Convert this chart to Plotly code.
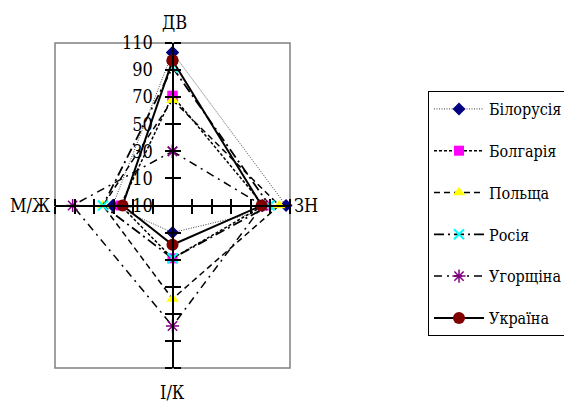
import math
import plotly.graph_objects as go

# ---------------- data ----------------
categories = ["ДВ", "ЗН", "І/К", "М/Ж"]
series_names = ["Білорусія", "Болгарія", "Польща", "Росія", "Угорщіна", "Україна"]
belarus = [103, 106, 10, 51]
bulgaria = [71, 83, 29, 43]
poland = [68, 99, 59, 61]
russia = [92, 89, 29, 61]
hungary = [30, 82, 79, 92]
ukraine = [97, 81, 19, 41]
tick_labels = ["-10", "10", "30", "50", "70", "90", "110"]
r_min = -10
r_max = 110

series_values = [belarus, bulgaria, poland, russia, hungary, ukraine]

# ---------------- styles ----------------
styles = [
    dict(dash="1px,1.5px", width=1, color="#404040", symbol="diamond", mcolor="#000080", msize=10, mline=0),
    dict(dash="3px,2px", width=1.5, color="black", symbol="square", mcolor="#FF00FF", msize=10, mline=0),
    dict(dash="6px,4px", width=1.5, color="black", symbol="triangle-up", mcolor="#FFFF00", msize=11, mline=0),
    dict(dash="10px,4px,2px,4px", width=1.8, color="black", symbol="x-thin-open", mcolor="#00FFFF", msize=10, mline=2),
    dict(dash="8px,5px,2px,5px", width=1.5, color="black", symbol="asterisk-open", mcolor="#800080", msize=11, mline=1.5),
    dict(dash="solid", width=2, color="black", symbol="circle", mcolor="#800000", msize=12, mline=0),
]

# page body has an 8px margin, so the figure is offset by that much in the window
OFF = 8
W, H = 572 - OFF, 403 - OFF
left, right, top, bottom = 55 - OFF, 290 - OFF, 43 - OFF, 368 - OFF
dom_x = [left / W, right / W]
dom_y = [1 - bottom / H, 1 - top / H]
cx = (dom_x[0] + dom_x[1]) / 2
cy = (dom_y[0] + dom_y[1]) / 2
R = r_max - r_min

n = len(categories)
angles = [math.pi / 2 - 2 * math.pi * i / n for i in range(n)]


def to_xy(vals):
    xs, ys = [], []
    for v, a in zip(vals + vals[:1], angles + angles[:1]):
        r = v - r_min
        xs.append(round(r * math.cos(a), 6))
        ys.append(round(r * math.sin(a), 6))
    return xs, ys


fig = go.Figure()
for name, vals, st in zip(series_names, series_values, styles):
    xs, ys = to_xy(vals)
    fig.add_trace(go.Scatter(
        x=xs, y=ys, mode="lines+markers", name=name, legendgroup=name,
        line=dict(color=st["color"], width=st["width"], dash=st["dash"]),
        marker=dict(symbol=st["symbol"], color=st["mcolor"], size=st["msize"],
                    line=dict(color=st["mcolor"], width=st["mline"])),
        cliponaxis=False, hoverinfo="skip",
    ))

# empty trace for the overlay axes that draw the other half of the tick marks
fig.add_trace(go.Scatter(x=[], y=[], xaxis="x2", yaxis="y2", showlegend=False, hoverinfo="skip"))

tick_r = [float(t) - r_min for t in tick_labels]
neg_r = [-r for r in tick_r if r > 0]
y_tickvals = tick_r + neg_r
y_ticktext = tick_labels + [""] * len(neg_r)
x_tickvals = [r for r in tick_r if r > 0] + neg_r

font_serif = "DejaVu Serif Condensed, DejaVu Serif"
common = dict(range=[-R, R], showgrid=False, zeroline=False, fixedrange=True, automargin=False)

fig.update_layout(
    width=W, height=H,
    margin=dict(l=0, r=0, t=0, b=0, autoexpand=False),
    paper_bgcolor="white", plot_bgcolor="white",
    font=dict(family=font_serif, color="black"),
    xaxis=dict(**common, domain=dom_x, anchor="free", position=cy, side="bottom",
               showline=True, linecolor="black", linewidth=2,
               tickmode="array", tickvals=x_tickvals, ticks="outside", ticklen=7,
               tickwidth=1.5, tickcolor="black", showticklabels=False),
    xaxis2=dict(**common, overlaying="x", anchor="free", position=cy, side="top",
                showline=False, tickmode="array", tickvals=x_tickvals, ticks="outside",
                ticklen=7, tickwidth=1.5, tickcolor="black", showticklabels=False),
    yaxis=dict(**common, domain=dom_y, anchor="free", position=cx, side="left",
               showline=True, linecolor="black", linewidth=2,
               tickmode="array", tickvals=y_tickvals, ticktext=y_ticktext,
               ticks="outside", ticklen=7, tickwidth=1.5, tickcolor="black",
               ticklabelstandoff=8,
               tickfont=dict(family=font_serif, size=18, color="black")),
    yaxis2=dict(**common, overlaying="y", anchor="free", position=cx, side="right",
                showline=False, tickmode="array", tickvals=y_tickvals, ticks="outside",
                ticklen=7, tickwidth=1.5, tickcolor="black", showticklabels=False),
    legend=dict(x=(428 - OFF) / W, y=1 - (91 - OFF) / H, xanchor="left", yanchor="top",
                bgcolor="white", bordercolor="black", borderwidth=1,
                font=dict(family=font_serif, size=16, color="black"),
                traceorder="grouped", tracegroupgap=18, itemwidth=50),
    showlegend=True,
)

# plot-area frame
fig.add_shape(type="rect", xref="x domain", yref="y domain", x0=0, x1=1, y0=0, y1=1,
              line=dict(color="#808080", width=1.5), layer="below")

# category labels at spoke ends
anchors = [
    dict(xanchor="center", yanchor="bottom", xshift=2, yshift=8),
    dict(xanchor="left", yanchor="middle", xshift=2, yshift=0),
    dict(xanchor="center", yanchor="top", xshift=0, yshift=-12),
    dict(xanchor="right", yanchor="middle", xshift=-2, yshift=0),
]
for cat, a, anc in zip(categories, angles, anchors):
    fig.add_annotation(x=round(R * math.cos(a), 6), y=round(R * math.sin(a), 6),
                       xref="x", yref="y", text=cat, showarrow=False,
                       font=dict(family=font_serif, size=18, color="black"), **anc)

fig.write_html("out.html")
